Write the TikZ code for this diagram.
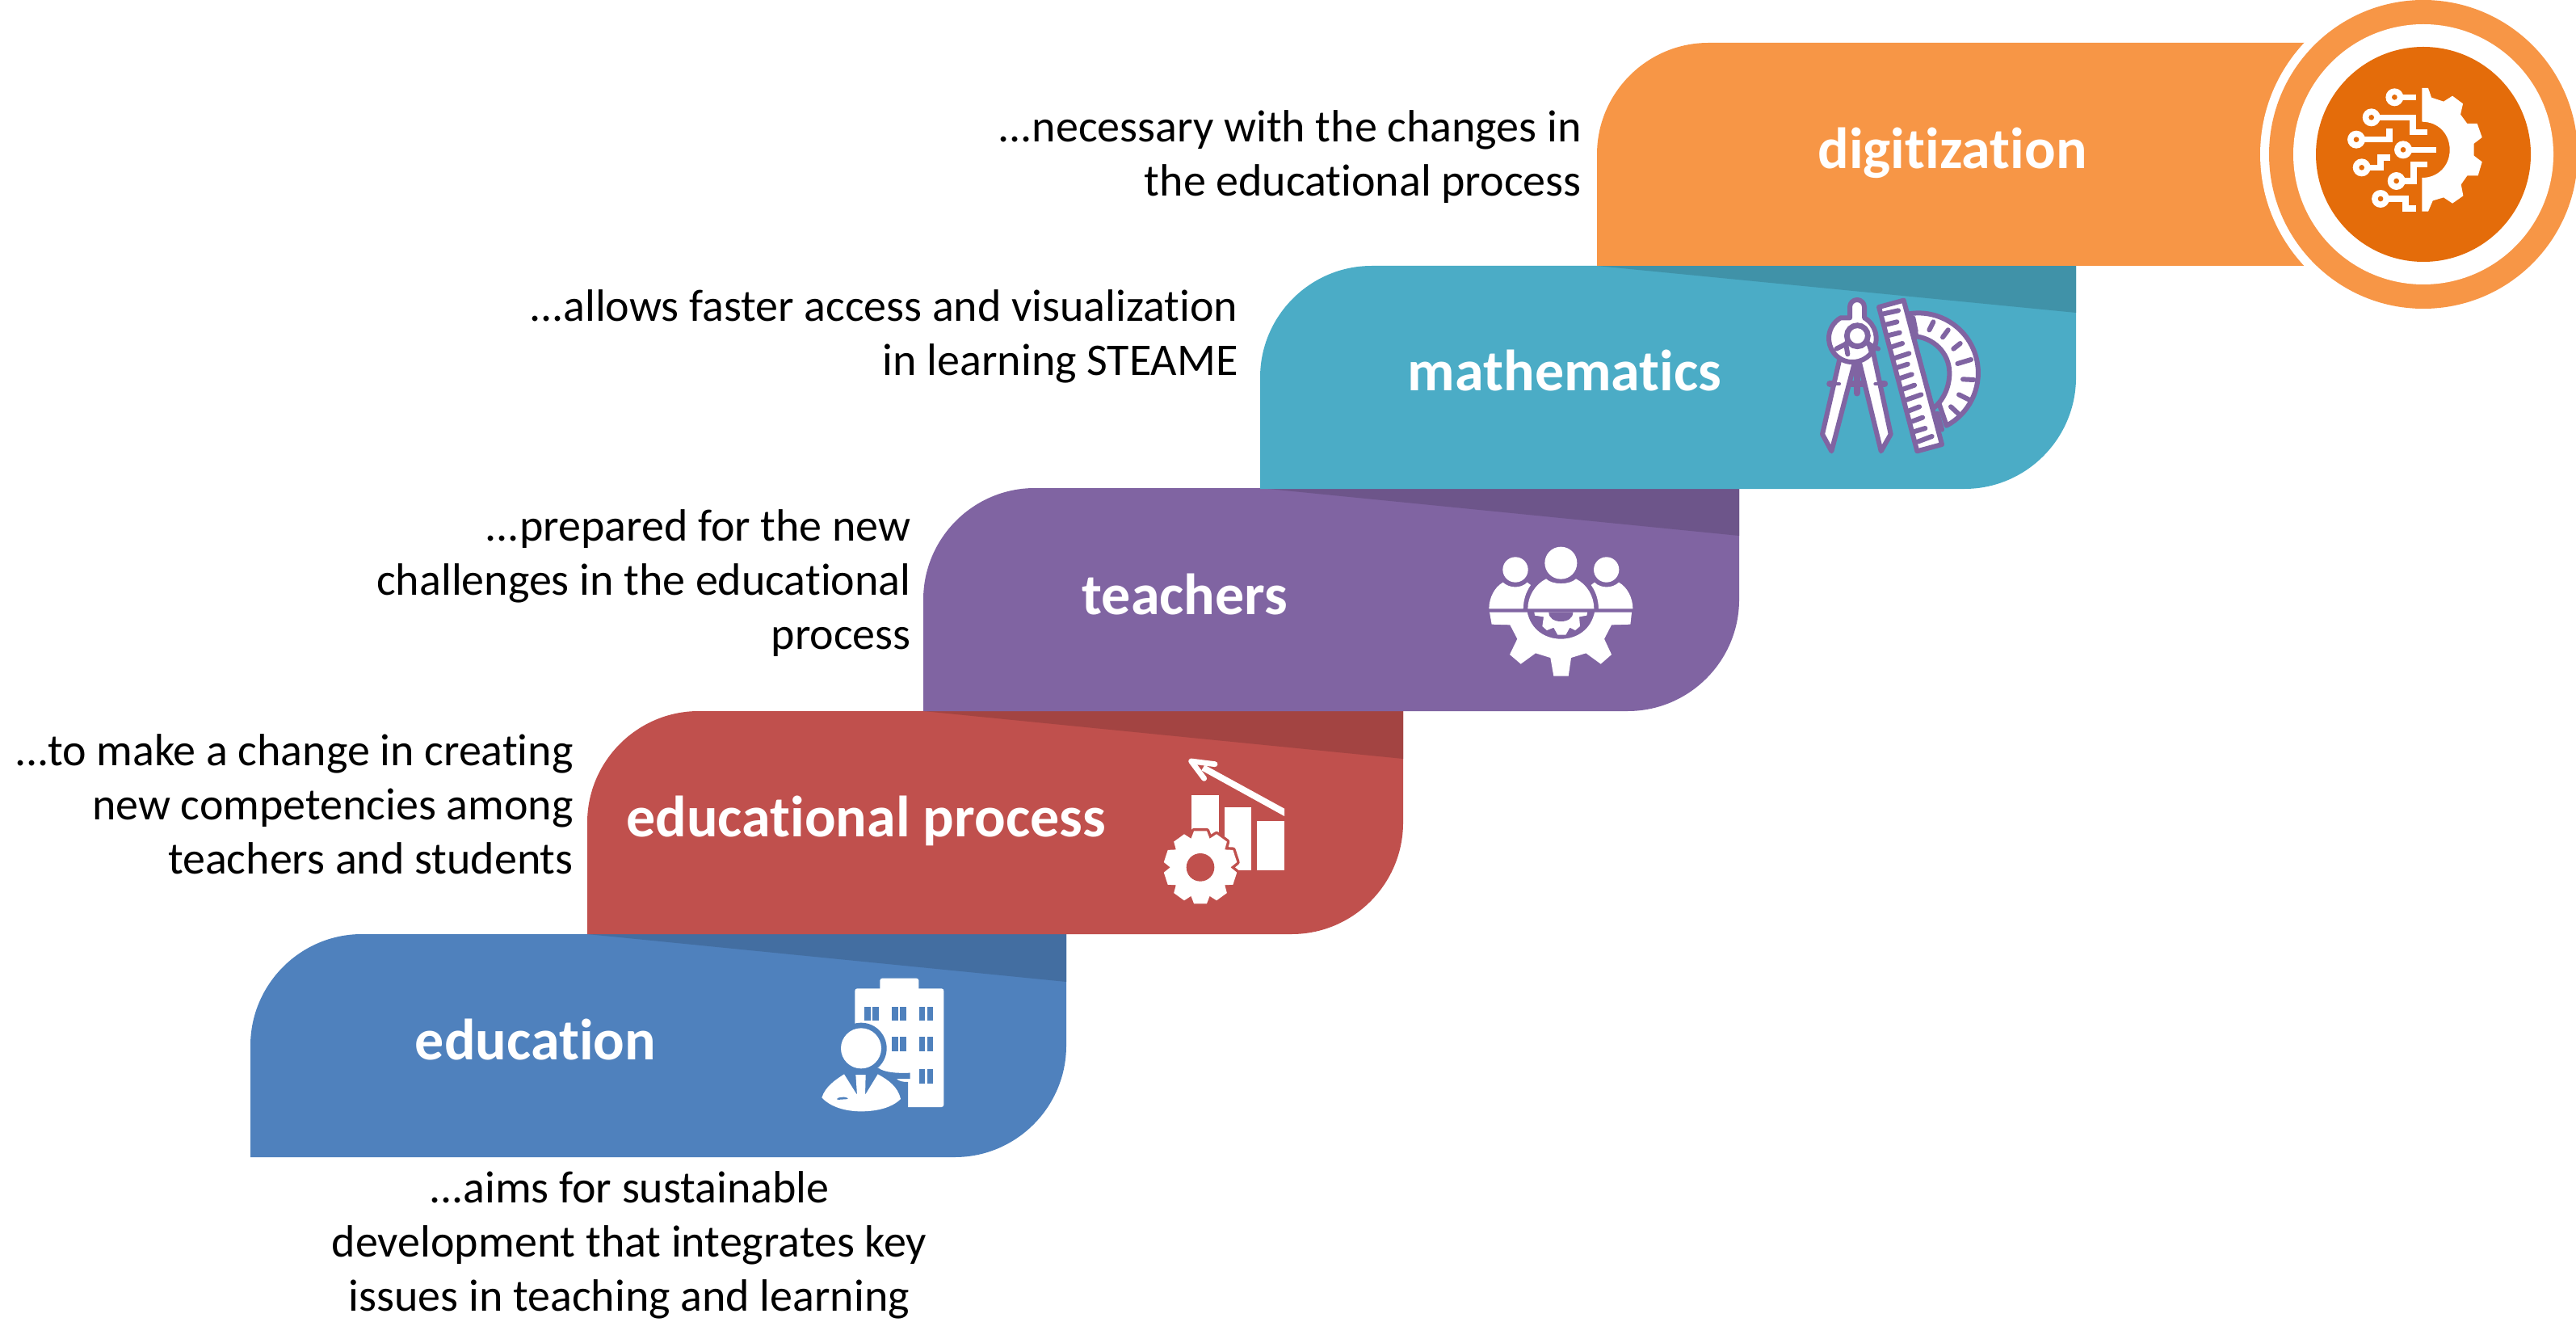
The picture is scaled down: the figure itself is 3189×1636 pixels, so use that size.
\documentclass[tikz,border=0pt]{standalone}
\usepackage{fontspec}
\setmainfont{Carlito}[Ligatures=NoCommon]
\definecolor{cOrange}{HTML}{F79646}
\definecolor{cOrangeD}{HTML}{E46C0A}
\definecolor{cTeal}{HTML}{4BACC6}
\definecolor{cPurple}{HTML}{8064A2}
\definecolor{cRed}{HTML}{C0504D}
\definecolor{cBlue}{HTML}{4F81BD}
\tikzset{
  note/.style={font=\fontsize{28}{33.5}\selectfont,inner sep=0pt,text=black},
  noteR/.style={note,align=right,anchor=east},
  noteC/.style={note,align=center,anchor=center},
  lab/.style={font=\fontsize{36}{40}\selectfont\bfseries,text=white,inner sep=0pt,anchor=base},
  zoomed/.style={x=0.16667pt,y=-0.16667pt},
  trace/.style={draw=white,line width=3.8pt,miter limit=10},
  inst/.style={draw=cPurple,line width=3pt,fill=white,line join=round},
  tick/.style={draw=cPurple,line width=3pt,line cap=round},
}
\begin{document}
\begin{tikzpicture}[x=0.5pt,y=-0.5pt]
\useasboundingbox (0,0) rectangle (3189,1636);
% blue
\fill[cBlue] (310,1432) -- (310,1294) .. controls (310,1218) and (372,1156) .. (448,1156) -- (1320,1156) -- (1320,1294) .. controls (1320,1370) and (1258,1432) .. (1182,1432) -- cycle;
\fill[cBlue!85!black] (727,1156) -- (1320,1156) -- (1320,1215) -- cycle;
% red
\fill[cRed] (727,1156) -- (727,1018) .. controls (727,942) and (789,880) .. (865,880) -- (1737,880) -- (1737,1018) .. controls (1737,1094) and (1675,1156) .. (1599,1156) -- cycle;
\fill[cRed!85!black] (1143,880) -- (1737,880) -- (1737,939) -- cycle;
% purple
\fill[cPurple] (1143,880) -- (1143,742) .. controls (1143,666) and (1205,604) .. (1281,604) -- (2153,604) -- (2153,742) .. controls (2153,818) and (2091,880) .. (2015,880) -- cycle;
\fill[cPurple!85!black] (1560,604) -- (2153,604) -- (2153,663) -- cycle;
% teal
\fill[cTeal] (1560,605) -- (1560,467) .. controls (1560,391) and (1622,329) .. (1698,329) -- (2570,329) -- (2570,467) .. controls (2570,543) and (2508,605) .. (2432,605) -- cycle;
\fill[cTeal!85!black] (1977,329) -- (2570,329) -- (2570,387) -- cycle;
% orange
\fill[cOrange] (1977,329) -- (1977,191) .. controls (1977,115) and (2039,53) .. (2115,53) -- (2900,53) -- (2900,329) -- cycle;
\fill[white] (3000,191) circle[radius=202];
\fill[cOrange] (3000,191) circle[radius=191];
\fill[white] (3000,191) circle[radius=161];
\fill[cOrangeD] (3000,191) circle[radius=133];

% digitization icon
\begin{scope}[shift={(2700,0)},zoomed]
\fill[white] (895,327) -- (918,327) -- (930,362) -- (975,377) -- (1008,356) -- (1047,385) -- (1038,425) -- (1063,459) -- (1100,459) -- (1118,510) -- (1088,533) -- (1088,578) -- (1118,601) -- (1103,652) -- (1063,652) -- (1040,685) -- (1048,727) -- (1008,755) -- (975,733) -- (935,745) -- (918,785) -- (895,785) -- (895,660) .. controls (955,660) and (998,615) .. (998,556) .. controls (998,497) and (955,452) .. (895,452) -- cycle;
\draw[trace] (793,361) -- (872,361);
\draw[trace] (707,436) -- (860,436) -- (860,490) -- (915,490);
\draw[trace] (651,518) -- (773,518) -- (773,478);
\draw[trace] (825,556) -- (948,556);
\draw[trace] (671,622) -- (740,622) -- (740,585) -- (778,585);
\draw[trace] (800,672) -- (864,672) -- (864,610) -- (915,610);
\draw[trace] (741,738) -- (833,738) -- (833,774) -- (872,774);
\foreach \cx/\cy in {793/361,707/436,651/518,825/556,671/622,800/672,741/738}{
  \fill[white] (\cx,\cy) circle[radius=33];
  \fill[cOrangeD] (\cx,\cy) circle[radius=10];
}
\end{scope}

% mathematics icon
\begin{scope}[shift={(2150,330)},zoomed]
% protractor
\draw[inst] (640,175) arc[start angle=-99,end angle=62,radius=222] -- cycle;
\draw[draw=cPurple,line width=3pt,fill=cTeal] (655,258) .. controls (730,262) and (790,320) .. (790,395) .. controls (790,450) and (765,500) .. (728,527) -- cycle;
\foreach \ax/\ay/\bx/\by in {655/190/665/240,715/235/730/205,765/262/785/235,805/305/830/285,820/360/870/345,840/418/880/420,825/475/865/495,795/520/822/545,745/545/762/605}{
  \draw[tick] (\ax,\ay) -- (\bx,\by);
}
% ruler
\draw[inst] (528,150) -- (620,125) -- (762,660) -- (670,685) -- cycle;
\foreach \ax/\ay/\bx/\by in {545/175/600/163,555/215/595/205,565/255/605/245,575/298/615/285,585/340/640/322,595/375/635/362,605/415/650/400,618/455/660/440,628/495/685/475,640/535/678/520,650/575/690/560,660/612/700/600,672/650/725/630}{
  \draw[tick] (\ax,\ay) -- (\bx,\by);
}
% compass
\draw[draw=cPurple,line width=3.8pt,line cap=round] (345,435) -- (550,435);
\draw[draw=cPurple,line width=3.8pt,line cap=round] (446,340) -- (446,470);
\draw[inst] (392,300) -- (318,622) -- (352,685) -- (442,340) -- cycle;
\draw[inst] (503,300) -- (572,622) -- (536,685) -- (452,340) -- cycle;
\draw[draw=cPurple,line width=2.4pt,line cap=round] (345,435) -- (380,435) (515,435) -- (550,435);
\draw[inst] (420,190) -- (420,150) arc[start angle=180,end angle=360,radius=27] -- (474,190) arc[start angle=-60,end angle=240,radius=88] -- cycle;
\draw[draw=cPurple,line width=3.4pt,fill=white] (448,257) circle[radius=39];
\draw[tick] (405,285) -- (412,325);
\draw[tick] (490,285) -- (500,315);
\draw[tick] (370,305) -- (400,290);
\draw[tick] (525,305) -- (495,290);
\end{scope}

% teachers icon
\begin{scope}[shift={(1800,640)},zoomed]
\fill[white] (397,170) circle[radius=60];
\fill[white] (228,195) circle[radius=47];
\fill[white] (566,195) circle[radius=47];
\fill[white] (274,340) .. controls (274,295) and (300,250) .. (342,229) .. controls (365,252) and (430,252) .. (453,229) .. controls (495,250) and (520,295) .. (520,340) -- cycle;
\fill[white] (130,340) .. controls (130,300) and (150,260) .. (182,242) .. controls (205,265) and (250,265) .. (272,242) -- (285,252) .. controls (265,280) and (258,310) .. (257,340) -- cycle;
\fill[white] (664,340) .. controls (664,300) and (644,260) .. (612,242) .. controls (589,265) and (544,265) .. (522,242) -- (509,252) .. controls (529,280) and (536,310) .. (537,340) -- cycle;
\fill[white] (132,353) -- (272,353) .. controls (285,415) and (335,452) .. (397,452) .. controls (459,452) and (509,415) .. (522,353) -- (660,353) -- (655,398) -- (585,400) -- (558,452) -- (585,510) -- (545,545) -- (490,505) -- (435,522) -- (425,590) -- (370,590) -- (358,522) -- (303,505) -- (248,545) -- (207,510) -- (235,452) -- (208,400) -- (140,398) -- cycle;
\fill[white] (298,353) -- (495,353) -- (493,365) -- (465,370) -- (468,405) -- (450,420) -- (430,410) -- (415,437) -- (385,437) -- (370,410) -- (345,420) -- (328,405) -- (333,370) -- (300,365) -- cycle;
\fill[cPurple] (352,353) .. controls (352,375) and (372,387) .. (397,387) .. controls (422,387) and (442,375) .. (442,353) -- cycle;
\end{scope}

% educational process icon
\begin{scope}[shift={(1400,910)},zoomed]
\fill[white] (226,222) rectangle (327,400);
\fill[white] (347,268) rectangle (448,502);
\fill[white] (468,318) rectangle (569,502);
\fill[white] (570,272) -- (570,300) -- (262,130) -- (274,110) -- cycle;
\draw[white,line width=3.4pt,line cap=round,line join=round] (312,107) -- (224,96) -- (272,160);
\begin{scope}[shift={(258,490)}]
\draw[cRed,line width=3.4pt,line join=round] (-108:112)
  \foreach \a in {-90,-54,-18,18,54,90,126,162,198,234}{
    -- (\a-18:112) -- (\a-10:137) -- (\a+10:137) -- (\a+18:112)
  } -- cycle;
\fill[white] (-108:112)
  \foreach \a in {-90,-54,-18,18,54,90,126,162,198,234}{
    -- (\a-18:112) -- (\a-10:137) -- (\a+10:137) -- (\a+18:112)
  } -- cycle;
\fill[cRed] (0,0) circle[radius=52];
\end{scope}
\end{scope}

% education icon
\begin{scope}[shift={(980,1190)},zoomed]
\fill[white,rounded corners=1.4pt] (235,100) rectangle (565,540);
\fill[white,rounded corners=1.4pt] (328,62) rectangle (472,120);
\foreach \wx/\wy in {270/168,372/168,473/168,372/280,473/280,473/400}{
  \fill[cBlue] (\wx,\wy) rectangle ++(23,52);
  \fill[cBlue] (\wx+30,\wy) rectangle ++(23,52);
}
\fill[cBlue] (258,322) circle[radius=95];
\fill[cBlue] (225,395) -- (322,395) .. controls (345,412) and (390,415) .. (440,413) -- (440,435) -- (388,435) .. controls (400,445) and (415,447) .. (432,447) -- (432,560) -- (100,560) -- (100,395) -- cycle;
\fill[white] (258,322) circle[radius=75];
\fill[white] (112,505) .. controls (125,465) and (160,440) .. (195,418) -- (243,495) -- (238,420) -- (275,420) -- (273,495) -- (320,418) .. controls (360,440) and (395,465) .. (405,510) .. controls (370,545) and (310,556) .. (258,556) .. controls (200,556) and (145,540) .. (112,505) -- cycle;
\fill[cBlue,rounded corners=1pt] (168,506) -- (200,502) -- (212,510) -- (168,513) -- cycle;
\end{scope}

% labels
\node[lab] (l1) at (2417,209) {digitization};
\node[lab] (l2) at (1937,484) {mathematics};
\node[lab] (l3) at (1467,760) {teachers};
\node[lab] (l4) at (1072,1035) {educational process};
\node[lab] (l5) at (663,1311) {education};
% notes
\node[noteR] (n1) at (1958,194) {...necessary with the changes in\\the educational process};
\node[noteR] (n2) at (1533,416) {...allows faster access and visualization\\in learning STEAME};
\node[noteR] (n3) at (1128,722) {...prepared for the new\\challenges in the educational\\process};
\node[noteR] (n4) at (710,995) {...to make a change in creating\\new competencies among\\teachers and students};
\node[noteC] (n5) at (779,1541) {...aims for sustainable\\development that integrates key\\issues in teaching and learning};
\end{tikzpicture}
\end{document}
